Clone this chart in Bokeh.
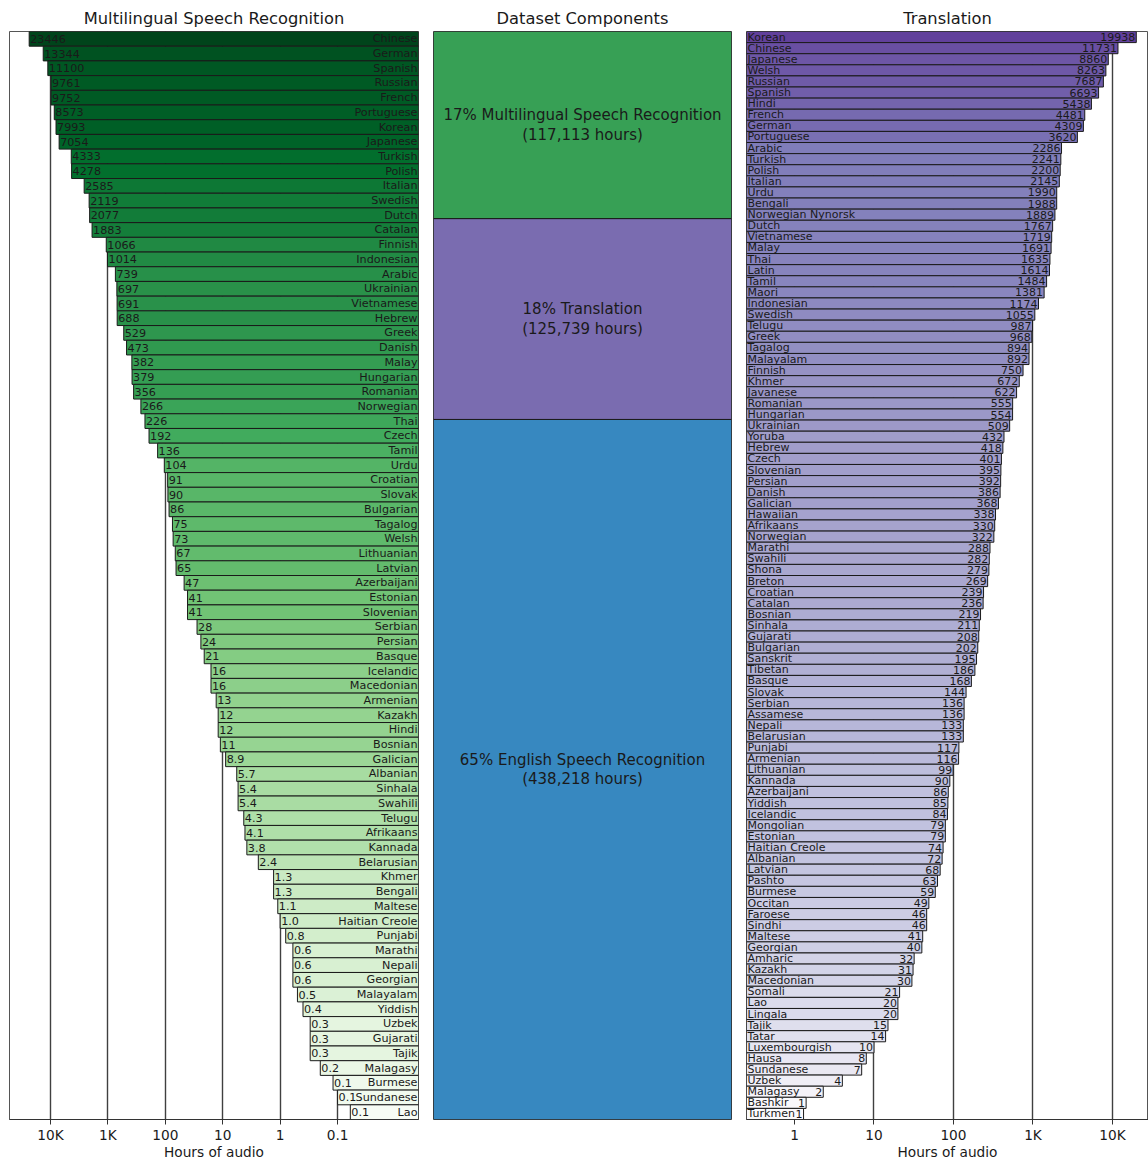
import math
from bokeh.plotting import figure
from bokeh.models import ColumnDataSource, Range1d, FixedTicker
from bokeh.layouts import row
from bokeh.embed import file_html
from bokeh.resources import INLINE
from bokeh.core.properties import value

# ---------------- data ----------------
asr_langs = ["Chinese", "German", "Spanish", "Russian", "French", "Portuguese", "Korean", "Japanese",
             "Turkish", "Polish", "Italian", "Swedish", "Dutch", "Catalan", "Finnish", "Indonesian",
             "Arabic", "Ukrainian", "Vietnamese", "Hebrew", "Greek", "Danish", "Malay", "Hungarian",
             "Romanian", "Norwegian", "Thai", "Czech", "Tamil", "Urdu", "Croatian", "Slovak",
             "Bulgarian", "Tagalog", "Welsh", "Lithuanian", "Latvian", "Azerbaijani", "Estonian",
             "Slovenian", "Serbian", "Persian", "Basque", "Icelandic", "Macedonian", "Armenian",
             "Kazakh", "Hindi", "Bosnian", "Galician", "Albanian", "Sinhala", "Swahili", "Telugu",
             "Afrikaans", "Kannada", "Belarusian", "Khmer", "Bengali", "Maltese", "Haitian Creole",
             "Punjabi", "Marathi", "Nepali", "Georgian", "Malayalam", "Yiddish", "Uzbek", "Gujarati",
             "Tajik", "Malagasy", "Burmese", "Sundanese", "Lao"]
asr_hours = [23446, 13344, 11100, 9761, 9752, 8573, 7993, 7054,
             4333, 4278, 2585, 2119, 2077, 1883, 1066, 1014,
             739, 697, 691, 688, 529, 473, 382, 379,
             356, 266, 226, 192, 136, 104, 91, 90,
             86, 75, 73, 67, 65, 47, 41,
             41, 28, 24, 21, 16, 16, 13,
             12, 12, 11, 8.9, 5.7, 5.4, 5.4, 4.3,
             4.1, 3.8, 2.4, 1.3, 1.3, 1.1, 1.0,
             0.8, 0.6, 0.6, 0.6, 0.5, 0.4, 0.3, 0.3,
             0.3, 0.2, 0.12, 0.1, 0.06]

tr_langs = ["Korean", "Chinese", "Japanese", "Welsh", "Russian", "Spanish", "Hindi", "French",
            "German", "Portuguese", "Arabic", "Turkish", "Polish", "Italian", "Urdu", "Bengali",
            "Norwegian Nynorsk", "Dutch", "Vietnamese", "Malay", "Thai", "Latin", "Tamil", "Maori",
            "Indonesian", "Swedish", "Telugu", "Greek", "Tagalog", "Malayalam", "Finnish", "Khmer",
            "Javanese", "Romanian", "Hungarian", "Ukrainian", "Yoruba", "Hebrew", "Czech",
            "Slovenian", "Persian", "Danish", "Galician", "Hawaiian", "Afrikaans", "Norwegian",
            "Marathi", "Swahili", "Shona", "Breton", "Croatian", "Catalan", "Bosnian", "Sinhala",
            "Gujarati", "Bulgarian", "Sanskrit", "Tibetan", "Basque", "Slovak", "Serbian",
            "Assamese", "Nepali", "Belarusian", "Punjabi", "Armenian", "Lithuanian", "Kannada",
            "Azerbaijani", "Yiddish", "Icelandic", "Mongolian", "Estonian", "Haitian Creole",
            "Albanian", "Latvian", "Pashto", "Burmese", "Occitan", "Faroese", "Sindhi", "Maltese",
            "Georgian", "Amharic", "Kazakh", "Macedonian", "Somali", "Lao", "Lingala", "Tajik",
            "Tatar", "Luxembourgish", "Hausa", "Sundanese", "Uzbek", "Malagasy", "Bashkir", "Turkmen"]
tr_hours = [19938, 11731, 8860, 8263, 7687, 6693, 5438, 4481,
            4309, 3620, 2286, 2241, 2200, 2145, 1990, 1988,
            1889, 1767, 1719, 1691, 1635, 1614, 1484, 1381,
            1174, 1055, 987, 968, 894, 892, 750, 672,
            622, 555, 554, 509, 432, 418, 401,
            395, 392, 386, 368, 338, 330, 322,
            288, 282, 279, 269, 239, 236, 219, 211,
            208, 202, 195, 186, 168, 144, 136,
            136, 133, 133, 117, 116, 99, 90,
            86, 85, 84, 79, 79, 74,
            72, 68, 63, 59, 49, 46, 46, 41,
            40, 32, 31, 30, 21, 20, 20, 15,
            14, 10, 8, 7, 4, 2.3, 1.4, 1.3]

# bottom -> top
comp_names = ["English Speech Recognition", "Translation", "Multilingual Speech Recognition"]
comp_hours = [438218, 125739, 117113]
comp_pct = [65, 18, 17]

left_ticks = [10000, 1000, 100, 10, 1, 0.1]
left_tick_labels = ["10K", "1K", "100", "10", "1", "0.1"]
right_ticks = [1, 10, 100, 1000, 10000]
right_tick_labels = ["1", "10", "100", "1K", "10K"]

# ---------------- styling ----------------
FONT = "DejaVu Sans"
TXT = "#1a1a1a"
H = 1162
TOP = 31
FRAME_H = 1089
BOTTOM = H - TOP - FRAME_H

GREENS = ["#f7fcf5", "#e5f5e0", "#c7e9c0", "#a1d99b", "#74c476", "#41ab5d", "#238b45", "#006d2c", "#00441b"]
PURPLES = ["#fcfbfd", "#efedf5", "#dadaeb", "#bcbddc", "#9e9ac8", "#807dba", "#6a51a3", "#54278f", "#3f007d"]
COMP_COLORS = ["#3788c0", "#7a6cb0", "#37a055"]


def interp(pal, t):
    t = max(0.0, min(1.0, t))
    pos = t * (len(pal) - 1)
    i = min(int(math.floor(pos)), len(pal) - 2)
    f = pos - i
    a = [int(pal[i][k:k + 2], 16) for k in (1, 3, 5)]
    b = [int(pal[i + 1][k:k + 2], 16) for k in (1, 3, 5)]
    c = [round(a[j] + (b[j] - a[j]) * f) for j in range(3)]
    return "#%02x%02x%02x" % tuple(c)


def make_fig(width, title, x_range, y_range, x_axis_type, bl, br):
    p = figure(width=width, height=H, x_range=x_range, y_range=y_range,
               x_axis_type=x_axis_type, output_backend="svg", toolbar_location=None,
               min_border_left=bl, min_border_right=br, min_border_top=TOP,
               min_border_bottom=BOTTOM, title=title)
    p.title.align = "center"
    p.title.text_font = FONT
    p.title.text_font_size = "16.3px"
    p.title.text_font_style = "normal"
    p.title.text_color = TXT
    p.title.standoff = 7
    p.title.offset = 0
    p.outline_line_color = "#555555"
    p.outline_line_width = 1
    p.background_fill_color = "white"
    p.border_fill_color = "white"
    p.ygrid.visible = False
    p.yaxis.visible = False
    return p


def style_xaxis(p, ticks, labels):
    tk = FixedTicker(ticks=ticks)
    p.xaxis.ticker = tk
    p.xgrid.ticker = tk
    p.xaxis.major_label_overrides = dict(zip(ticks, labels))
    p.xaxis.axis_label = "Hours of audio"
    p.xaxis.axis_label_text_font = FONT
    p.xaxis.axis_label_text_font_size = "13.7px"
    p.xaxis.axis_label_text_font_style = "normal"
    p.xaxis.axis_label_text_color = TXT
    p.xaxis.axis_label_standoff = -2
    p.xaxis.major_label_text_font = FONT
    p.xaxis.major_label_text_font_size = "13.7px"
    p.xaxis.major_label_text_color = TXT
    p.xaxis.major_label_standoff = 2
    p.xaxis.axis_line_color = "#333333"
    p.xaxis.major_tick_line_color = "#333333"
    p.xaxis.major_tick_in = 0
    p.xaxis.major_tick_out = 5
    p.xaxis.minor_tick_line_color = None
    p.xgrid.grid_line_color = "#2b2b2b"
    p.xgrid.grid_line_width = 1.4
    p.xgrid.grid_line_alpha = 0.9


# ---------------- left: multilingual ASR ----------------
L_MAX, L_MIN = 51600, 0.0039
nL = len(asr_langs)
lmin, lmax = math.log10(min(asr_hours)), math.log10(max(asr_hours))
left_src = ColumnDataSource(dict(
    y=list(range(nL)),
    v=asr_hours,
    name=asr_langs,
    lab=[str(int(round(v))) if v >= 10 else "%.1f" % v for v in asr_hours],
    c=[interp(GREENS, (math.log10(v) - lmin) / (lmax - lmin)) for v in asr_hours],
))
pL = make_fig(425, "Multilingual Speech Recognition", Range1d(L_MAX, L_MIN),
              Range1d(nL - 0.5, -0.5), "log", 9, 7)
style_xaxis(pL, left_ticks, left_tick_labels)
pL.hbar(y="y", left="v", right=L_MIN, height=1.0, fill_color="c", line_color="#1a1a1a",
        line_width=1, source=left_src)
pL.text(x="v", y="y", text="lab", source=left_src, text_font=value(FONT), text_font_size="11.2px",
        text_align="left", text_baseline="middle", text_color=TXT, x_offset=1)
pL.text(x=L_MIN, y="y", text="name", source=left_src, text_font=value(FONT), text_font_size="11.2px",
        text_align="right", text_baseline="middle", text_color=TXT, x_offset=-1)

# ---------------- middle: dataset components ----------------
total = sum(comp_hours)
bottoms, tops = [], []
acc = 0
for h in comp_hours:
    bottoms.append(acc)
    acc += h
    tops.append(acc)
mid_src = ColumnDataSource(dict(
    b=bottoms, t=tops, m=[(b + t) / 2 for b, t in zip(bottoms, tops)],
    c=COMP_COLORS,
    lab=["%d%% %s\n(%s hours)" % (pc, n, "{:,}".format(h)) for pc, n, h in zip(comp_pct, comp_names, comp_hours)],
))
pM = make_fig(313, "Dataset Components", Range1d(0, 1), Range1d(0, total), "linear", 8, 7)
pM.xaxis.visible = False
pM.xgrid.visible = False
pM.quad(left=0, right=1, bottom="b", top="t", fill_color="c", line_color="#1a1a1a", line_width=1,
        source=mid_src)
pM.text(x=0.5, y="m", text="lab", source=mid_src, text_font=value(FONT), text_font_size="15px",
        text_align="center", text_baseline="middle", text_color=TXT, text_line_height=1.1)

# ---------------- right: translation ----------------
R_MIN, R_MAX = 0.249, 28400
nR = len(tr_langs)
rmax = math.log10(max(tr_hours))
right_src = ColumnDataSource(dict(
    y=list(range(nR)),
    v=tr_hours,
    name=tr_langs,
    lab=[str(int(round(v))) for v in tr_hours],
    c=[interp(PURPLES, 0.8 * math.log10(v) / rmax) for v in tr_hours],
))
pR = make_fig(410, "Translation", Range1d(R_MIN, R_MAX), Range1d(nR - 0.5, -0.5), "log", 8, 0)
style_xaxis(pR, right_ticks, right_tick_labels)
pR.hbar(y="y", left=R_MIN, right="v", height=1.0, fill_color="c", line_color="#1a1a1a",
        line_width=1, source=right_src)
pR.text(x=R_MIN, y="y", text="name", source=right_src, text_font=value(FONT), text_font_size="11px",
        text_align="left", text_baseline="middle", text_color=TXT, x_offset=1)
pR.text(x="v", y="y", text="lab", source=right_src, text_font=value(FONT), text_font_size="11px",
        text_align="right", text_baseline="middle", text_color=TXT, x_offset=-1)

layout = row(pL, pM, pR)
open("out.html", "w").write(file_html(layout, INLINE))
